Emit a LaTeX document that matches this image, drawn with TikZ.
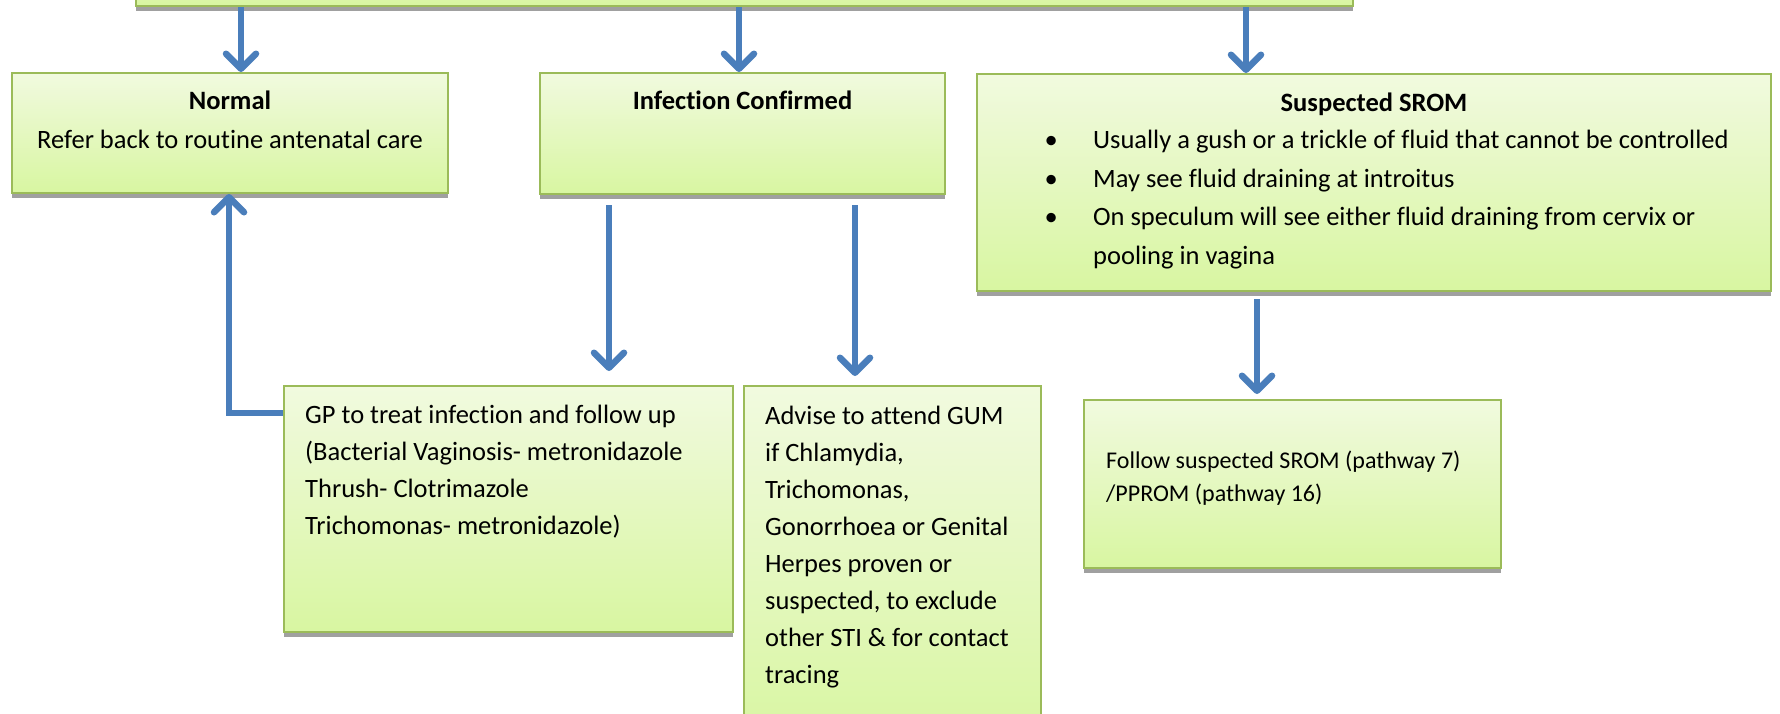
\documentclass[tikz,border=0pt]{standalone}
\usepackage{fontspec}
\setmainfont{Carlito}[Ligatures=NoCommon]
\usetikzlibrary{arrows.meta,shadows,calc}
\definecolor{boxborder}{HTML}{9BBB59}
\definecolor{boxtop}{HTML}{F1FADF}
\definecolor{boxbot}{HTML}{D8F6A1}
\definecolor{arrowblue}{HTML}{4A7EBB}
\definecolor{shadowgray}{HTML}{A0A0A0}
\begin{document}
\begin{tikzpicture}[x=1pt,y=-1pt,
  box/.style={rectangle, draw=boxborder, line width=2pt, top color=boxtop, bottom color=boxbot,
    inner sep=0pt, anchor=north west,
    drop shadow={shadow xshift=0pt, shadow yshift=-5pt, fill=shadowgray, opacity=1}},
  arr/.style={draw=arrowblue, line width=6.5pt, -{Straight Barb[length=15pt,width=30pt,round]}},
  txt/.style={inner sep=0pt, align=left, font=\fontsize{26.5}{37}\selectfont, anchor=base west},
  smalltxt/.style={txt, font=\fontsize{24}{33}\selectfont},
]
\path[use as bounding box] (0,0) rectangle (1780,713);
\clip (0,0) rectangle (1780,713);

\coordinate (xa) at (241,0);
\coordinate (xb) at (739,0);
\coordinate (xc) at (1246,0);
\coordinate (xd) at (609,0);
\coordinate (xe) at (855,0);
\coordinate (xf) at (1257,0);
\coordinate (xg) at (229,0);

% boxes
\node[box, minimum width=1217pt, minimum height=80pt, anchor=south west] (top) at (135,7) {};
\node[box, minimum width=436pt, minimum height=120pt] (normal) at (11,72) {};
\node[box, minimum width=405pt, minimum height=121pt] (infect) at (539,72) {};
\node[box, minimum width=794pt, minimum height=217pt] (srom) at (976,73) {};
\node[box, minimum width=449pt, minimum height=246pt] (gp) at (283,385) {};
\node[box, minimum width=297pt, minimum height=360pt] (advise) at (743,385) {};
\node[box, minimum width=417pt, minimum height=168pt] (follow) at (1083,399) {};

% texts (base anchor = baseline of the last line)
\node[txt, align=center, anchor=base] (normaltxt) at ($(normal.north)+(0,76)$)
  {\textbf{Normal}\\[2pt]Refer back to routine antenatal care};
\node[txt, align=center, anchor=base] (infecttxt) at ($(infect.north)+(0,37)$)
  {\textbf{Infection Confirmed}};
\node[txt, align=center, anchor=base] (sromtitle) at ($(srom.north)+(0,38)$)
  {\textbf{Suspected SROM}};
\node[txt, font=\fontsize{26.5}{38.5}\selectfont] (sromlist) at ($(srom.north west)+(33,191)$)
  {\makebox[84pt]{\textbullet}Usually a gush or a trickle of fluid that cannot be controlled\\
   \makebox[84pt]{\textbullet}May see fluid draining at introitus\\
   \makebox[84pt]{\textbullet}On speculum will see either fluid draining from cervix or\\
   \hspace*{84pt}pooling in vagina};
\node[txt] (gptxt) at ($(gp.north west)+(22,149)$)
  {GP to treat infection and follow up\\
   (Bacterial Vaginosis- metronidazole\\
   Thrush- Clotrimazole\\
   Trichomonas- metronidazole)};
\node[txt] (advisetxt) at ($(advise.north west)+(22,298)$)
  {Advise to attend GUM\\
   if Chlamydia,\\
   Trichomonas,\\
   Gonorrhoea or Genital\\
   Herpes proven or\\
   suspected, to exclude\\
   other STI \& for contact\\
   tracing};
\node[smalltxt] (followtxt) at ($(follow.north west)+(23,102)$)
  {Follow suspected SROM (pathway 7)\\
   /PPROM (pathway 16)};

% connectors
\draw[arr] (top.south -| xa) -- (normal.north -| xa);
\draw[arr] (top.south -| xb) -- (infect.north -| xb);
\draw[arr] (top.south -| xc) -- (srom.north -| xc);
\draw[arr, shorten <=10pt, shorten >=14pt] (infect.south -| xd) -- (gp.north -| xd);
\draw[arr, shorten <=10pt, shorten >=9pt] (infect.south -| xe) -- (advise.north -| xe);
\draw[arr, shorten <=7pt, shorten >=5pt] (srom.south -| xf) -- (follow.north -| xf);
\draw[arr] ($(gp.north west)+(0,28)$) -| (normal.south -| xg);
\end{tikzpicture}
\end{document}
